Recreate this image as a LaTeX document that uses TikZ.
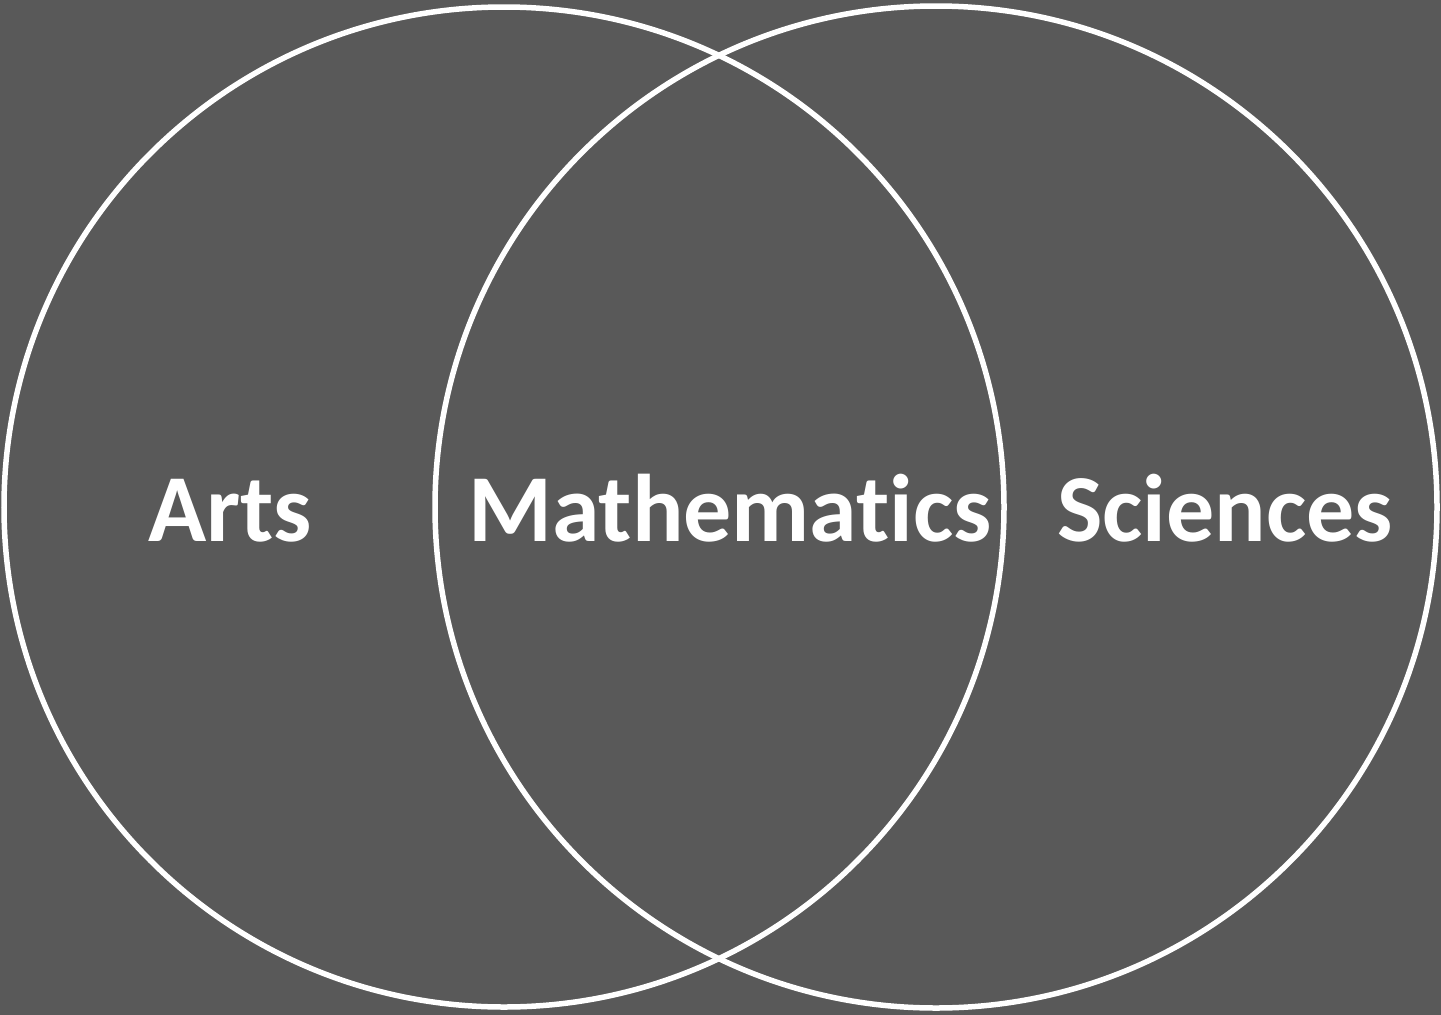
\documentclass[tikz,border=0pt]{standalone}
\usepackage{fontspec}
\setmainfont[Ligatures=NoCommon]{Carlito}
\definecolor{bg}{HTML}{595959}
\begin{document}
\begin{tikzpicture}[x=1pt,y=-1pt,
  ring/.style={draw=white,line width=5.5pt},
  lbl/.style={text=white,font=\bfseries\fontsize{96}{96}\selectfont,inner sep=0pt,anchor=base}]
\fill[bg] (0,0) rectangle (1441,1015);
\useasboundingbox (0,0) rectangle (1441,1015);
\draw[ring] (504,507) circle[radius=500];
\draw[ring] (936,507) circle[radius=501];
\node[lbl] (arts) at (230,541) {Arts};
\node[lbl] (math) at (730,541) {Mathematics};
\node[lbl] (sci) at (1225,541) {Sciences};
\end{tikzpicture}
\end{document}
